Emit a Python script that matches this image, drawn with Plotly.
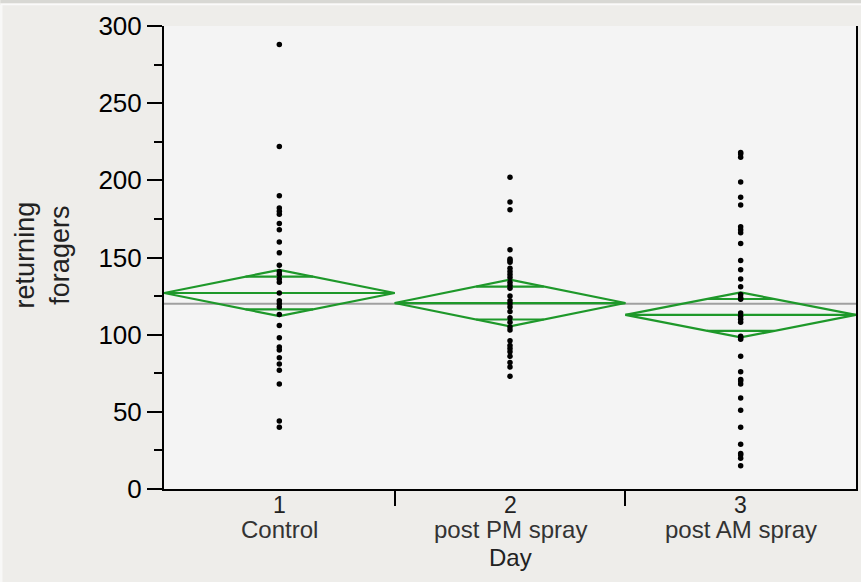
import plotly.graph_objects as go
import math

# ---- data ----
day_numbers = ["1", "2", "3"]
day_names = ["Control", "post PM spray", "post AM spray"]

control = [288, 222, 190, 182, 180, 178, 172, 168, 160, 153, 145, 141, 139, 136, 134,
           127, 122, 120, 118, 113, 106, 98, 92, 90, 85, 81, 77, 68, 44, 40]
post_pm = [202, 186, 181, 155, 149, 148, 147, 143, 141, 139, 137, 134, 132, 130, 125,
           122, 120, 118, 115, 111, 108, 105, 103, 96, 93, 91, 89, 86, 82, 79, 73]
post_am = [218, 217, 215, 199, 189, 184, 170, 168, 166, 159, 148, 142, 136, 131, 126,
           124, 123, 114, 112, 110, 108, 99, 98, 97, 86, 76, 71, 70, 68, 59, 51, 40,
           29, 23, 22, 20, 15]

group_means = [127.0, 120.5, 112.8]
ci_half = [15.0, 15.1, 14.6]
grand_mean = 120.0

y_ticks = [0, 50, 100, 150, 200, 250, 300]

GREEN = "rgb(30,152,42)"
FONT = "Liberation Sans, Arial, Helvetica, sans-serif"

fig = go.Figure()

# grand mean line
fig.add_trace(go.Scatter(x=[-0.5, 2.5], y=[grand_mean, grand_mean], mode="lines",
                         line=dict(color="rgb(160,160,160)", width=2),
                         hoverinfo="skip", showlegend=False))

# means diamonds
for i, (m, c) in enumerate(zip(group_means, ci_half)):
    fig.add_trace(go.Scatter(
        x=[i - 0.5, i, i + 0.5, i, i - 0.5],
        y=[m, m + c, m, m - c, m],
        mode="lines", line=dict(color=GREEN, width=2.2),
        hoverinfo="skip", showlegend=False))
    fig.add_trace(go.Scatter(x=[i - 0.5, i + 0.5], y=[m, m], mode="lines",
                             line=dict(color=GREEN, width=2.2),
                             hoverinfo="skip", showlegend=False))
    h = c / math.sqrt(2)
    hw = 0.5 * (1 - h / c)
    for s in (1, -1):
        fig.add_trace(go.Scatter(x=[i - hw, i + hw], y=[m + s * h, m + s * h],
                                 mode="lines", line=dict(color=GREEN, width=2.2),
                                 hoverinfo="skip", showlegend=False))

# points
for i, vals in enumerate([control, post_pm, post_am]):
    fig.add_trace(go.Scatter(x=[i] * len(vals), y=vals, mode="markers",
                             marker=dict(color="black", size=5.5),
                             name=day_names[i], showlegend=False))

fig.update_layout(
    width=861, height=582,
    margin=dict(l=164, r=3, t=26, b=93),
    paper_bgcolor="rgb(238,237,234)",
    plot_bgcolor="rgb(244,244,244)",
    font=dict(family=FONT, color="black"),
    showlegend=False,
)

fig.update_xaxes(
    range=[-0.5, 2.5], tickmode="array", tickvals=[0.5, 1.5], ticktext=["", ""],
    ticks="outside", ticklen=15, tickwidth=2, tickcolor="black",
    showline=True, linecolor="black", linewidth=2, mirror=False,
    showgrid=False, zeroline=False, fixedrange=True,
)
fig.update_yaxes(
    range=[0, 300], tickmode="array", tickvals=y_ticks,
    ticktext=[str(v) for v in y_ticks],
    ticks="outside", ticklen=15, tickwidth=2, tickcolor="black",
    tickfont=dict(size=26, family=FONT, color="black"),
    minor=dict(dtick=25, tick0=0, ticks="outside", ticklen=8, tickwidth=2,
               tickcolor="black", showgrid=False),
    showline=True, linecolor="black", linewidth=2, mirror=True,
    showgrid=False, zeroline=False, fixedrange=True,
)

# x tick labels (numbers and names) and axis titles
annotations = []
for i in range(3):
    annotations.append(dict(x=i, xref="x", y=-0.035, yref="paper", text=day_numbers[i],
                            showarrow=False, yanchor="middle",
                            font=dict(size=23, family=FONT, color="#222")))
    annotations.append(dict(x=i, xref="x", y=-0.087, yref="paper", text=day_names[i],
                            showarrow=False, yanchor="middle",
                            font=dict(size=24, family=FONT, color="#333")))
annotations.append(dict(x=1, xref="x", y=-0.149, yref="paper", text="Day",
                        showarrow=False, yanchor="middle",
                        font=dict(size=24, family=FONT, color="#222")))
annotations.append(dict(x=-0.176, xref="paper", y=0.505, yref="paper",
                        text="returning<br>foragers", textangle=-90,
                        showarrow=False, xanchor="center", yanchor="middle",
                        font=dict(size=27, family=FONT, color="#222")))
fig.update_layout(annotations=annotations)

# window frame strips (top and left edge)
fig.add_shape(type="rect", xref="paper", yref="paper",
              x0=-164 / 694, x1=1.01, y0=(489 - 3) / 463, y1=(489 + 2) / 463,
              fillcolor="rgb(216,216,212)", line=dict(width=0), layer="above")
fig.add_shape(type="line", xref="paper", yref="paper",
              x0=-164 / 694, x1=1.01, y0=(489 - 4.5) / 463, y1=(489 - 4.5) / 463,
              line=dict(color="rgb(250,250,250)", width=1.5), layer="above")
fig.add_shape(type="rect", xref="paper", yref="paper",
              x0=(-164 - 2) / 694, x1=(2 - 164) / 694, y0=(489 - 582) / 463, y1=(489 - 5) / 463,
              fillcolor="rgb(248,248,247)", line=dict(width=0), layer="above")

fig.write_html(
    "out.html",
    config={"displayModeBar": False, "staticPlot": True},
    post_script="document.body.style.margin='0';document.body.style.overflow='hidden';"
                "document.body.style.background='rgb(238,237,234)';",
)
